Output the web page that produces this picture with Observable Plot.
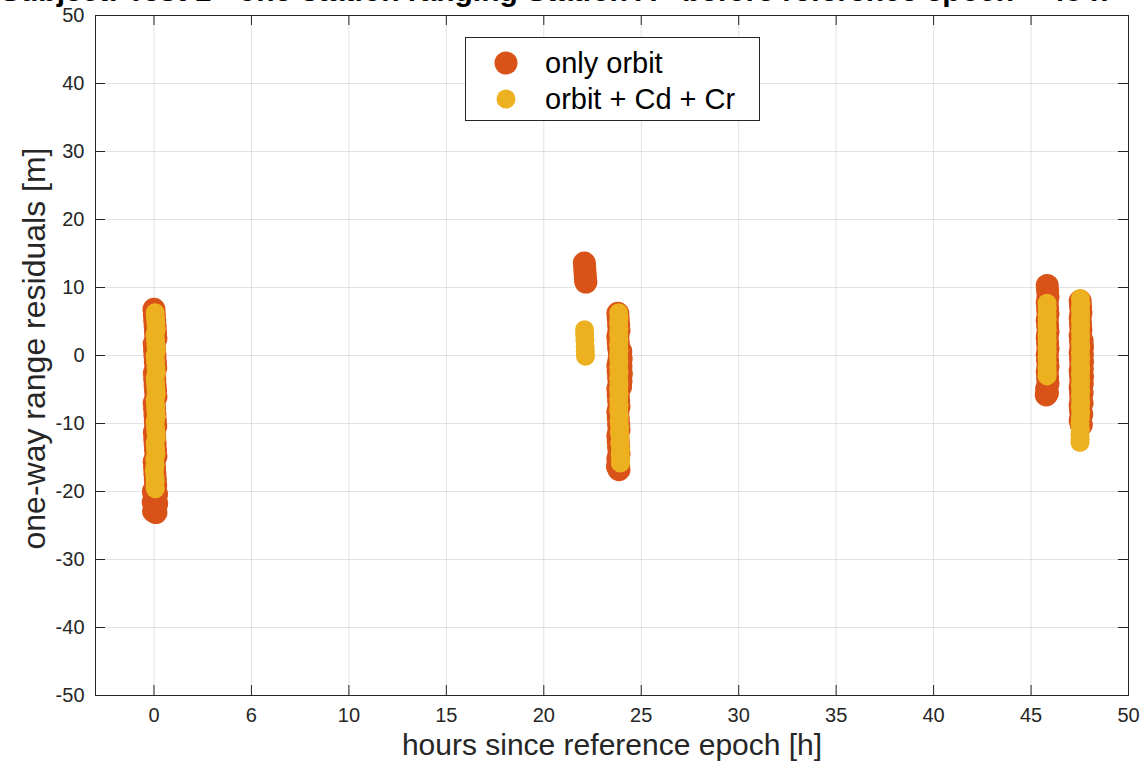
<!DOCTYPE html>
<html>
<head>
<meta charset="utf-8">
<script src="https://cdn.jsdelivr.net/npm/d3@7"></script>
<script src="https://cdn.jsdelivr.net/npm/@observablehq/plot@0.6"></script>
<style>
  html, body { margin: 0; padding: 0; background: #fff; overflow: hidden; }
  body { width: 1142px; height: 770px; position: relative; font-family: "Liberation Sans", Arial, Helvetica, sans-serif; color: #262626; }
  #title { position: absolute; top: -24px; left: 0; white-space: nowrap;
           font-weight: bold; font-size: 30px; line-height: 30px; color: #000; z-index: 2; }
  #legend { position: absolute; left: 465px; top: 37px; width: 295px; height: 84px; box-sizing: border-box;
            border: 1px solid #262626; background: #fff; z-index: 3; }
  .item { position: absolute; left: 0; height: 30px; display: flex; align-items: center; font-size: 29px; color: #000; }
  .item svg { margin-left: 27px; margin-right: 26px; }
</style>
</head>
<body>
<div id="title">Subject: Test 1 - one-station ranging Station A - before reference epoch + 48 h</div>
<div id="chart"></div>
<div id="legend"></div>
<script>
// ---- data ----
const seriesNames = ["only orbit", "orbit + Cd + Cr"];
const seriesColors = ["#D95319", "#EDB120"];

const xTicks = [0, 5, 10, 15, 20, 25, 30, 35, 40, 45, 50];
const xTickLabels = ["0", "6", "10", "15", "20", "25", "30", "35", "40", "45", "50"];
const yTicks = [-50, -40, -30, -20, -10, 0, 10, 20, 30, 40, 50];

// [hours, residual m]
const onlyOrbit = [
  [0.00,6.8],[0.02,6.0],[0.04,5.1],[0.06,4.3],[0.08,3.4],[0.10,2.5],[0.01,1.7],[0.03,0.8],[0.05,0.0],[0.07,-0.9],
  [0.09,-1.8],[0.02,-2.6],[0.04,-3.5],[0.06,-4.4],[0.08,-5.2],[0.10,-6.1],[0.01,-7.0],[0.03,-7.8],[0.05,-8.7],[0.07,-9.6],
  [0.09,-10.4],[0.02,-11.3],[0.04,-12.2],[0.06,-13.0],[0.08,-13.9],[0.10,-14.8],[0.01,-15.6],[0.03,-16.5],[0.05,-17.4],[0.07,-18.2],
  [0.09,-19.1],[-0.03,-20.0],[0.13,-20.4],[0.02,-20.8],[-0.04,-21.6],[0.14,-21.8],[0.06,-22.5],[-0.02,-22.9],[0.10,-23.1],
  [22.08,13.6],[22.10,13.0],[22.11,12.4],[22.13,11.8],[22.14,11.2],[22.16,10.8],
  [23.80,6.2],[23.82,5.4],[23.84,4.5],[23.86,3.7],[23.80,2.8],[23.82,2.0],[23.84,1.1],[23.88,0.3],[23.95,0.6],[23.97,-0.5],
  [23.96,-1.6],[23.98,-2.7],[23.96,-3.8],[23.94,-4.6],[23.86,-0.6],[23.80,-1.5],[23.82,-2.3],[23.84,-3.2],[23.86,-4.0],[23.80,-4.9],
  [23.82,-5.8],[23.84,-6.6],[23.86,-7.5],[23.80,-8.3],[23.82,-9.2],[23.84,-10.1],[23.86,-10.9],[23.80,-11.8],[23.82,-12.6],[23.84,-13.5],
  [23.86,-14.4],[23.80,-15.2],[23.83,-16.1],[23.86,-16.8],[23.78,-16.3],
  [45.83,10.3],[45.85,9.5],[45.87,8.6],[45.83,7.8],[45.85,6.9],[45.87,6.1],[45.83,5.2],[45.85,4.4],[45.87,3.5],[45.83,2.7],
  [45.85,1.8],[45.87,1.0],[45.83,0.1],[45.85,-0.7],[45.87,-1.6],[45.83,-2.4],[45.85,-3.3],[45.87,-4.1],[45.80,-4.9],[45.84,-5.5],[45.78,-5.8],
  [47.52,8.0],[47.54,7.2],[47.56,6.3],[47.52,5.5],[47.54,4.6],[47.56,3.8],[47.52,2.9],[47.54,2.1],[47.62,2.2],[47.64,1.3],
  [47.56,1.2],[47.52,0.4],[47.63,0.2],[47.54,-0.5],[47.64,-0.9],[47.56,-1.3],[47.52,-2.2],[47.63,-2.0],[47.54,-3.0],[47.64,-3.1],
  [47.56,-3.9],[47.52,-4.7],[47.63,-4.2],[47.54,-5.6],[47.62,-5.5],[47.56,-6.4],[47.52,-7.3],[47.62,-7.0],[47.54,-8.1],[47.60,-8.6],
  [47.56,-9.0],[47.52,-9.6],[47.58,-10.2]
];

const orbitCdCr = [
  [0.06,6.3],[0.08,5.5],[0.10,4.7],[0.12,3.9],[0.06,3.1],[0.08,2.3],[0.10,1.5],[0.12,0.7],[0.06,-0.1],[0.08,-0.9],
  [0.10,-1.7],[0.12,-2.5],[0.06,-3.3],[0.08,-4.1],[0.10,-4.9],[0.12,-5.7],[0.06,-6.5],[0.08,-7.3],[0.10,-8.1],[0.12,-8.9],
  [0.06,-9.7],[0.08,-10.5],[0.10,-11.3],[0.12,-12.1],[0.06,-12.9],[0.08,-13.7],[0.10,-14.5],[0.04,-15.3],[0.06,-16.1],[0.02,-16.9],
  [0.04,-17.7],[0.06,-18.5],[0.05,-19.2],[0.07,-19.6],
  [22.09,3.8],[22.10,3.0],[22.11,2.2],[22.12,1.4],[22.13,0.6],[22.14,-0.1],
  [23.84,6.3],[23.86,5.5],[23.84,4.7],[23.86,3.9],[23.84,3.1],[23.86,2.3],[23.84,1.5],[23.86,0.7],[23.84,-0.1],[23.86,-0.9],
  [23.84,-1.7],[23.86,-2.5],[23.84,-3.3],[23.86,-4.1],[23.84,-4.9],[23.86,-5.7],[23.84,-6.5],[23.86,-7.3],[23.84,-8.1],[23.88,-8.9],
  [23.86,-9.7],[23.90,-10.5],[23.88,-11.3],[23.92,-12.1],[23.90,-12.9],[23.94,-13.7],[23.92,-14.5],[23.95,-15.2],[23.93,-15.8],
  [45.82,7.7],[45.83,6.9],[45.82,6.1],[45.83,5.3],[45.82,4.5],[45.83,3.7],[45.82,2.9],[45.83,2.1],[45.82,1.3],[45.83,0.5],
  [45.82,-0.3],[45.83,-1.1],[45.82,-1.9],[45.83,-2.6],[45.82,-3.0],
  [47.53,8.4],[47.55,7.6],[47.53,6.8],[47.55,6.0],[47.53,5.2],[47.55,4.4],[47.53,3.6],[47.55,2.8],[47.53,2.0],[47.55,1.2],
  [47.53,0.4],[47.55,-0.4],[47.53,-1.2],[47.55,-2.0],[47.53,-2.8],[47.55,-3.6],[47.53,-4.4],[47.55,-5.2],[47.53,-6.0],[47.55,-6.8],
  [47.53,-7.6],[47.55,-8.4],[47.53,-9.2],[47.51,-10.0],[47.53,-10.8],[47.51,-11.6],[47.52,-12.3],[47.51,-12.8]
];

const xLabel = "hours since reference epoch [h]";
const yLabel = "one-way range residuals [m]";

// ---- chart ----
const W = 1142, H = 770;
const mL = 95, mR = 14, mT = 15, mB = 75;
const frameW = W - mL - mR, frameH = H - mT - mB;
const tickLen = 10;
const axisColor = "#262626";

const chart = Plot.plot({
  width: W, height: H,
  marginLeft: mL, marginRight: mR, marginTop: mT, marginBottom: mB,
  style: { fontFamily: '"Liberation Sans", Arial, Helvetica, sans-serif', color: axisColor, background: "transparent" },
  x: { domain: [-3, 50] },
  y: { domain: [-50, 50] },
  marks: [
    Plot.gridX(xTicks, { stroke: axisColor, strokeOpacity: 0.13 }),
    Plot.gridY(yTicks, { stroke: axisColor, strokeOpacity: 0.13 }),
    Plot.dot(onlyOrbit, { x: d => d[0], y: d => d[1], r: 11.5, fill: seriesColors[0], stroke: null }),
    Plot.dot(orbitCdCr, { x: d => d[0], y: d => d[1], r: 9.5, fill: seriesColors[1], stroke: null }),
    Plot.frame({ stroke: axisColor, strokeWidth: 1 }),
    Plot.tickX(xTicks, { x: d => d, insetTop: frameH - tickLen, stroke: axisColor }),
    Plot.tickX(xTicks, { x: d => d, insetBottom: frameH - tickLen, stroke: axisColor }),
    Plot.tickY(yTicks, { y: d => d, insetRight: frameW - tickLen, stroke: axisColor }),
    Plot.tickY(yTicks, { y: d => d, insetLeft: frameW - tickLen, stroke: axisColor }),
    Plot.axisX({ ticks: xTicks, tickFormat: d => xTickLabels[xTicks.indexOf(d)], tickSize: 0, tickPadding: 12, fontSize: 20, label: null, fill: axisColor }),
    Plot.axisY({ ticks: yTicks, tickFormat: d => String(d), tickSize: 0, tickPadding: 11, fontSize: 20, label: null, fill: axisColor }),
    Plot.text([xLabel], { frameAnchor: "bottom", dy: 59, fontSize: 30, fill: axisColor, text: d => d }),
    Plot.text([yLabel], { frameAnchor: "left", textAnchor: "middle", dx: -61, dy: -7, rotate: -90, fontSize: 32, fill: axisColor, text: d => d })
  ]
});
document.getElementById("chart").appendChild(chart);

// ---- legend ----
const legend = document.getElementById("legend");
const legendR = [11.5, 9.5];
const legendY = [10, 46];
seriesNames.forEach((name, i) => {
  const item = document.createElement("div");
  item.className = "item";
  item.style.top = legendY[i] + "px";
  item.innerHTML = `<svg width="26" height="26"><circle cx="13" cy="13" r="${legendR[i]}" fill="${seriesColors[i]}"/></svg><span>${name}</span>`;
  legend.appendChild(item);
});
</script>
</body>
</html>
